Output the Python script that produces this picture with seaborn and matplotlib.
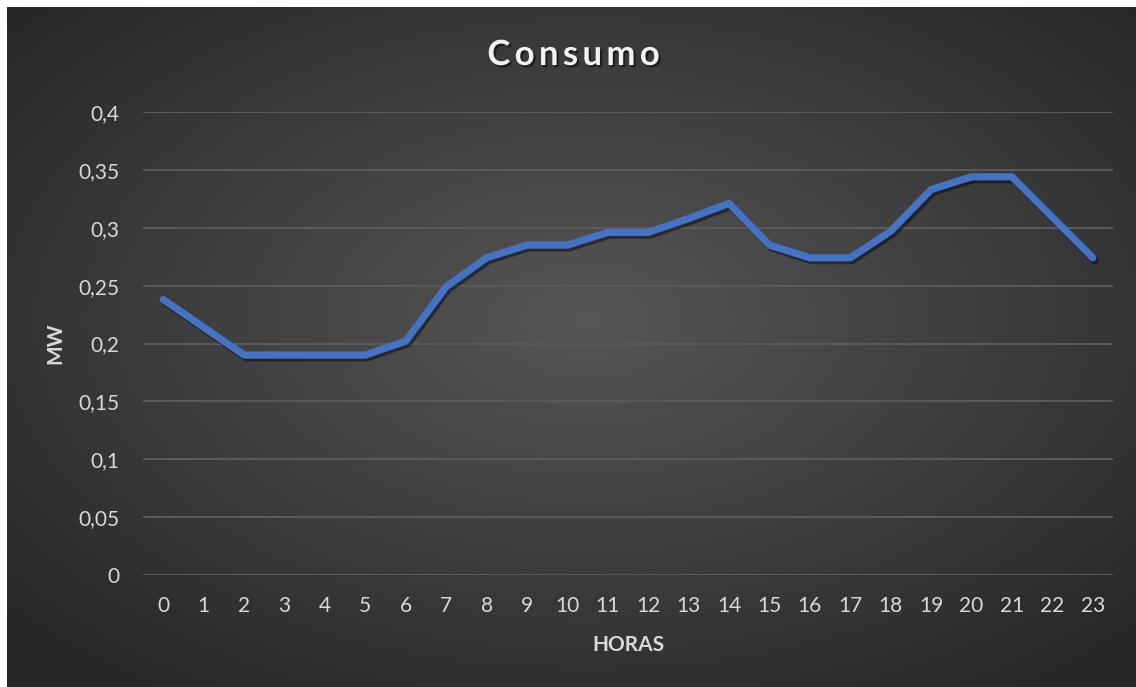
import numpy as np
import pandas as pd
import matplotlib
matplotlib.use("Agg")
import matplotlib.pyplot as plt
import matplotlib.patheffects as pe
import seaborn as sns

# Data
horas = list(range(24))
consumo_mw = [0.238, 0.214, 0.190, 0.190, 0.190, 0.190, 0.202, 0.249,
              0.274, 0.285, 0.285, 0.296, 0.296, 0.308, 0.321, 0.285,
              0.274, 0.274, 0.297, 0.333, 0.344, 0.344, 0.309, 0.274]
y_ticks = [0, 0.05, 0.1, 0.15, 0.2, 0.25, 0.3, 0.35, 0.4]

df = pd.DataFrame({"HORAS": horas, "MW": consumo_mw})

sns.set_theme(style="dark")
plt.rcParams["font.family"] = ["Lato", "DejaVu Sans"]

fig = plt.figure(figsize=(11.36, 6.87), dpi=100, facecolor="white")

# radial gradient background like the Excel chart style
bg = fig.add_axes([7 / 1136, -0.02, 1.02, 1 - 7 / 687 + 0.02])
yy, xx = np.mgrid[-1:1:400j, -1:1:600j]
r = np.sqrt(xx ** 2 + (yy + 0.1) ** 2) / np.sqrt(2)
center, edge = 0x56 / 255, 0x26 / 255
shade = center + (edge - center) * np.clip(r * 1.05, 0, 1)
bg.imshow(np.dstack([shade] * 3), aspect="auto", extent=[0, 1, 0, 1])
bg.set_axis_off()

ax = fig.add_axes([143 / 1136, 1 - 575 / 687, (1113 - 143) / 1136, (575 - 112) / 687])
ax.set_facecolor("none")

sns.lineplot(data=df, x="HORAS", y="MW", ax=ax, color="#4472C4", linewidth=5.2,
             solid_capstyle="round", solid_joinstyle="round",
             path_effects=[pe.SimpleLineShadow(offset=(1.5, -2), shadow_color="black", alpha=0.45),
                           pe.Normal()])

ax.set_xlim(-0.5, 23.5)
ax.set_ylim(0, 0.4)
ax.set_xticks(horas)
ax.set_xticklabels([str(h) for h in horas])
ax.set_yticks(y_ticks)
ax.set_yticklabels(["{:g}".format(v).replace(".", ",") for v in y_ticks])
ax.tick_params(axis="both", length=0, colors="#d9d9d9", labelsize=15)
ax.tick_params(axis="y", pad=17)
ax.tick_params(axis="x", pad=15)
ax.grid(axis="y", color="#595959", linewidth=1.5)
ax.grid(axis="x", visible=False)
for s in ax.spines.values():
    s.set_visible(False)

ax.set_xlabel("HORAS", color="#d9d9d9", fontsize=15, fontweight="bold", labelpad=14)
ax.set_ylabel("MW", color="#d9d9d9", fontsize=15, fontweight="bold", labelpad=9)

fig.text(0.505, 1 - 55 / 687, "C o n s u m o".replace(" ", "\u2009"), ha="center", va="center",
         fontsize=25, fontweight="bold", color="#f2f2f2",
         path_effects=[pe.withSimplePatchShadow(offset=(1.5, -1.5), shadow_rgbFace="black", alpha=0.5)])

fig.savefig("out.png", dpi=100, facecolor="white")
